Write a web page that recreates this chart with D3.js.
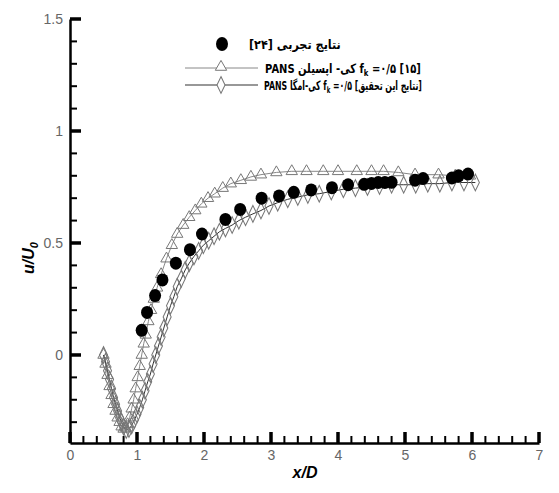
<!DOCTYPE html>
<html>
<head>
<meta charset="utf-8">
<script src="https://cdn.jsdelivr.net/npm/d3@7"></script>
</head>
<body style="margin:0">
<div id="chart"></div>
<script>
// experimental data (filled circles)
const expX = [1.07, 1.15, 1.27, 1.38, 1.58, 1.79, 1.97, 2.32, 2.54, 2.86, 3.12, 3.34, 3.60, 3.91, 4.15, 4.39, 4.50, 4.60, 4.70, 4.80, 5.15, 5.27, 5.70, 5.80, 5.94];
const expY = [0.11, 0.19, 0.265, 0.335, 0.41, 0.47, 0.54, 0.605, 0.65, 0.70, 0.71, 0.726, 0.737, 0.747, 0.76, 0.762, 0.766, 0.77, 0.77, 0.771, 0.78, 0.788, 0.79, 0.80, 0.808];

// PANS k-epsilon fk=0.5 (triangles)
const keX = [0.50, 0.53, 0.56, 0.59, 0.62, 0.65, 0.68, 0.71, 0.74, 0.77, 0.80, 0.83, 0.86, 0.89, 0.92, 0.95, 0.98, 1.01, 1.04, 1.07, 1.10, 1.13, 1.17, 1.21, 1.25, 1.30, 1.36, 1.44, 1.52, 1.60, 1.69, 1.78, 1.87, 1.96, 2.06, 2.16, 2.28, 2.40, 2.55, 2.70, 2.85, 3.08, 3.31, 3.53, 3.78, 4.00, 4.28, 4.50, 4.68, 4.90, 5.15, 5.50, 5.75, 5.97];
const keY = [0.00, -0.04, -0.09, -0.14, -0.18, -0.22, -0.25, -0.28, -0.30, -0.32, -0.33, -0.325, -0.31, -0.28, -0.24, -0.20, -0.15, -0.10, -0.05, 0.00, 0.05, 0.09, 0.15, 0.20, 0.25, 0.30, 0.36, 0.43, 0.49, 0.54, 0.58, 0.615, 0.645, 0.675, 0.70, 0.72, 0.745, 0.765, 0.78, 0.795, 0.805, 0.815, 0.82, 0.82, 0.82, 0.82, 0.82, 0.82, 0.82, 0.815, 0.805, 0.805, 0.80, 0.80];

// PANS k-omega fk=0.5, this study (diamonds)
const kwX = [0.50, 0.53, 0.56, 0.59, 0.62, 0.65, 0.68, 0.71, 0.74, 0.77, 0.80, 0.84, 0.88, 0.92, 0.96, 1.00, 1.04, 1.08, 1.12, 1.16, 1.20, 1.24, 1.28, 1.32, 1.36, 1.40, 1.45, 1.50, 1.55, 1.60, 1.66, 1.72, 1.78, 1.85, 1.92, 1.99, 2.07, 2.15, 2.23, 2.32, 2.42, 2.52, 2.62, 2.73, 2.85, 2.97, 3.10, 3.25, 3.40, 3.55, 3.72, 3.90, 4.08, 4.26, 4.44, 4.62, 4.80, 4.98, 5.16, 5.34, 5.52, 5.70, 5.88, 6.05];
const kwY = [0.00, -0.03, -0.07, -0.11, -0.15, -0.19, -0.22, -0.25, -0.28, -0.30, -0.32, -0.335, -0.33, -0.315, -0.29, -0.265, -0.235, -0.20, -0.16, -0.12, -0.085, -0.04, 0.00, 0.04, 0.08, 0.12, 0.17, 0.22, 0.26, 0.305, 0.34, 0.38, 0.41, 0.44, 0.465, 0.49, 0.51, 0.53, 0.55, 0.565, 0.58, 0.60, 0.615, 0.63, 0.645, 0.665, 0.68, 0.695, 0.705, 0.715, 0.72, 0.73, 0.74, 0.745, 0.75, 0.755, 0.76, 0.76, 0.76, 0.765, 0.765, 0.77, 0.77, 0.77];

const xMajor = [0, 1, 2, 3, 4, 5, 6, 7];
const yMajor = [0, 0.5, 1, 1.5];
const yLabels = ["0", "0.5", "1", "1.5"];

var width = 559, height = 493;
var x0 = 70, yAxis = 443;

var svg = d3.select("#chart").append("svg")
  .attr("width", width)
  .attr("height", height);

var x = d3.scaleLinear().domain([0, 7]).range([70, 539]);
var y = d3.scaleLinear().domain([-0.393, 1.5]).range([443, 19]);

var xMinor = d3.range(0, 36).map(i => i / 5).filter(v => v % 1 !== 0);
var yMinor = d3.range(-3, 16).map(i => i / 10).filter(v => Math.abs(v * 2 - Math.round(v * 2)) > 1e-6);

// axis lines and labels
svg.append("g")
  .attr("transform", "translate(0," + yAxis + ")")
  .call(d3.axisBottom(x).tickValues(xMajor).tickSize(0).tickPadding(6).tickFormat(d3.format("d")))
  .call(g => g.select(".domain").attr("stroke-width", 2.5))
  .call(g => g.selectAll("text").attr("fill", "#666").attr("font-size", 14)
    .attr("font-family", "Liberation Sans, Arial, sans-serif").attr("dy", "0.8em"));
svg.append("g")
  .attr("transform", "translate(" + x0 + ",0)")
  .call(d3.axisLeft(y).tickValues(yMajor).tickSize(0).tickPadding(7)
    .tickFormat((d, i) => yLabels[i]))
  .call(g => g.select(".domain").attr("stroke-width", 2.5))
  .call(g => g.selectAll("text").attr("fill", "#666").attr("font-size", 14)
    .attr("font-family", "Liberation Sans, Arial, sans-serif"));

// ticks (inward)
var tickG = svg.append("g").attr("fill", "#000");
tickG.selectAll(".xmin").data(xMinor).enter().append("rect")
  .attr("x", d => x(d) - 1).attr("y", yAxis - 7)
  .attr("width", 2).attr("height", 7);
tickG.selectAll(".xmaj").data(xMajor).enter().append("rect")
  .attr("x", d => x(d) - 1.75).attr("y", yAxis - 11)
  .attr("width", 3.5).attr("height", 11);
tickG.selectAll(".ymin").data(yMinor).enter().append("rect")
  .attr("x", x0).attr("y", d => y(d) - 1)
  .attr("width", 7).attr("height", 2);
tickG.selectAll(".ymaj").data(yMajor).enter().append("rect")
  .attr("x", x0).attr("y", d => y(d) - 1.75)
  .attr("width", 11).attr("height", 3.5);

// axis titles
svg.append("text")
  .attr("x", 305).attr("y", 478)
  .attr("text-anchor", "middle")
  .attr("font-family", "Liberation Sans, Arial, sans-serif")
  .attr("font-size", 16).attr("font-weight", "bold").attr("font-style", "italic")
  .text("x/D");

var ylab = svg.append("text")
  .attr("transform", "translate(34,258) rotate(-90)")
  .attr("text-anchor", "middle")
  .attr("font-family", "Liberation Sans, Arial, sans-serif")
  .attr("font-size", 16).attr("font-weight", "bold").attr("font-style", "italic");
ylab.append("tspan").text("u/U");
ylab.append("tspan").attr("font-size", 11).attr("dy", 4).text("0");

var line = d3.line().x(d => x(d[0])).y(d => y(d[1]));
var keData = d3.zip(keX, keY), kwData = d3.zip(kwX, kwY), expData = d3.zip(expX, expY);

var tri = d3.symbol().type(d3.symbolTriangle).size(56);
var dia = d3.symbol().type(d3.symbolDiamond).size(56);

svg.append("path").datum(keData)
  .attr("d", line).attr("fill", "none").attr("stroke", "#888").attr("stroke-width", 1);
svg.append("path").datum(kwData)
  .attr("d", line).attr("fill", "none").attr("stroke", "#333").attr("stroke-width", 1);

svg.selectAll(".tri").data(keData).enter().append("path")
  .attr("class", "tri")
  .attr("d", tri)
  .attr("transform", d => "translate(" + x(d[0]) + "," + y(d[1]) + ")")
  .attr("fill", "none").attr("stroke", "#777").attr("stroke-width", 1);

svg.selectAll(".dia").data(kwData).enter().append("path")
  .attr("class", "dia")
  .attr("d", dia)
  .attr("transform", d => "translate(" + x(d[0]) + "," + y(d[1]) + ") scale(1,1.2)")
  .attr("fill", "none").attr("stroke", "#777").attr("stroke-width", 1);

svg.selectAll(".exp").data(expData).enter().append("ellipse")
  .attr("class", "exp")
  .attr("cx", d => x(d[0])).attr("cy", d => y(d[1]))
  .attr("rx", 6).attr("ry", 6.5)
  .attr("fill", "#000");

// legend
var legFont = "DejaVu Sans, Noto Sans, sans-serif";
function fitText(t, tx, ty, w) {
  var len = t.node().getComputedTextLength();
  t.attr("transform", "translate(" + tx + "," + ty + ") scale(" + (w / len) + ",1)");
}

svg.append("ellipse").attr("cx", 222).attr("cy", 44).attr("rx", 6).attr("ry", 7).attr("fill", "#000");
var t1 = svg.append("text")
  .attr("font-family", legFont).attr("font-size", 13).attr("font-weight", "bold")
  .text("\u200E[۲۴] نتایج تجربی");
fitText(t1, 249, 49, 92);

svg.append("line").attr("x1", 185).attr("x2", 258).attr("y1", 68).attr("y2", 68)
  .attr("stroke", "#888").attr("stroke-width", 1);
svg.append("path").attr("d", tri).attr("transform", "translate(221,67)")
  .attr("fill", "#fff").attr("stroke", "#777");
var t2 = svg.append("text")
  .attr("font-family", legFont).attr("font-size", 13).attr("font-weight", "bold");
t2.append("tspan").text("\u200EPANS کی- اپسیلن f");
t2.append("tspan").attr("font-size", 9).attr("dy", 3).text("k");
t2.append("tspan").attr("dy", -3).text(" =۰/۵ [۱۵]");
fitText(t2, 265, 73, 156);

svg.append("line").attr("x1", 185).attr("x2", 258).attr("y1", 85).attr("y2", 85)
  .attr("stroke", "#333").attr("stroke-width", 1.2);
svg.append("path").attr("d", dia).attr("transform", "translate(221,85) scale(1,1.2)")
  .attr("fill", "#fff").attr("stroke", "#777");
var t3 = svg.append("text")
  .attr("font-family", legFont).attr("font-size", 13).attr("font-weight", "bold");
t3.append("tspan").text("\u200EPANS کی-امگا f");
t3.append("tspan").attr("font-size", 9).attr("dy", 3).text("k");
t3.append("tspan").attr("dy", -3).text(" =۰/۵ [نتایج این تحقیق]");
fitText(t3, 264, 90, 158);
</script>
</body>
</html>
